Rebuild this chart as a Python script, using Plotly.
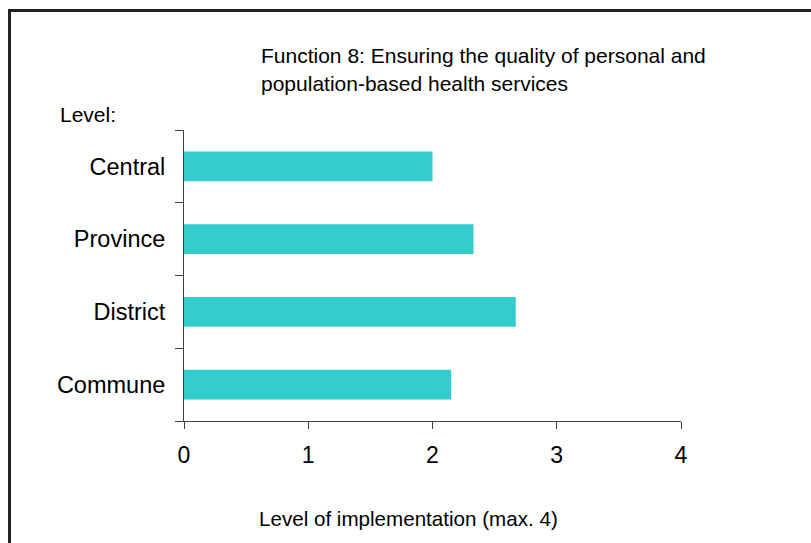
import plotly.graph_objects as go

levels = ["Central", "Province", "District", "Commune"]
values = [2.0, 2.33, 2.67, 2.15]
x_ticks = [0, 1, 2, 3, 4]
title_lines = ["Function 8: Ensuring the quality of personal and",
               "population-based health services"]
y_label = "Level:"
x_label = "Level of implementation (max. 4)"

FONT = "Liberation Sans, Arial, sans-serif"
W, H = 811, 543
L, R, T, B = 184, 130, 130, 122
pw, ph = W - L - R, H - T - B

def px(x):
    return (x - L) / pw

def py(y):
    return (H - B - y) / ph

fig = go.Figure(go.Bar(
    x=values, y=levels, orientation="h",
    marker=dict(color="#33CCCC", line=dict(width=0)),
))

fig.update_layout(
    width=W, height=H,
    margin=dict(l=L, r=R, t=T, b=B),
    paper_bgcolor="white", plot_bgcolor="white",
    bargap=0.588,
    showlegend=False,
    font=dict(family=FONT, color="black"),
)
fig.update_xaxes(
    range=[0, 4], tickvals=x_ticks, ticktext=[str(v) for v in x_ticks],
    showgrid=False, zeroline=False,
    showline=True, linecolor="#404040", linewidth=1,
    ticks="outside", ticklen=7, tickcolor="#404040",
    ticklabelstandoff=6,
    tickfont=dict(size=23, family=FONT, color="black"),
)
fig.update_yaxes(
    categoryorder="array", categoryarray=levels[::-1],
    showgrid=False, zeroline=False,
    showline=True, linecolor="#404040", linewidth=1,
    ticks="outside", ticklen=8, tickcolor="#404040",
    tickson="boundaries",
    ticklabelstandoff=13,
    tickfont=dict(size=23.5, family=FONT, color="black"),
)

anns = [
    dict(text=title_lines[0], x=px(259), y=py(55), xanchor="left", yanchor="middle", font=dict(size=21)),
    dict(text=title_lines[1], x=px(259), y=py(84), xanchor="left", yanchor="middle", font=dict(size=21)),
    dict(text=y_label, x=px(58), y=py(115), xanchor="left", yanchor="middle", font=dict(size=21)),
    dict(text=x_label, x=px(408), y=py(518), xanchor="center", yanchor="middle", font=dict(size=20.6)),
]
for a in anns:
    a.update(xref="paper", yref="paper", showarrow=False)
    a["font"]["family"] = FONT
    a["font"]["color"] = "black"
fig.update_layout(annotations=anns)

fig.add_shape(type="rect", xref="paper", yref="paper",
              x0=px(9.5), x1=1.5, y0=-1, y1=py(10.5),
              line=dict(color="#222222", width=3), fillcolor="rgba(0,0,0,0)", layer="below")

fig.write_html("out.html")
